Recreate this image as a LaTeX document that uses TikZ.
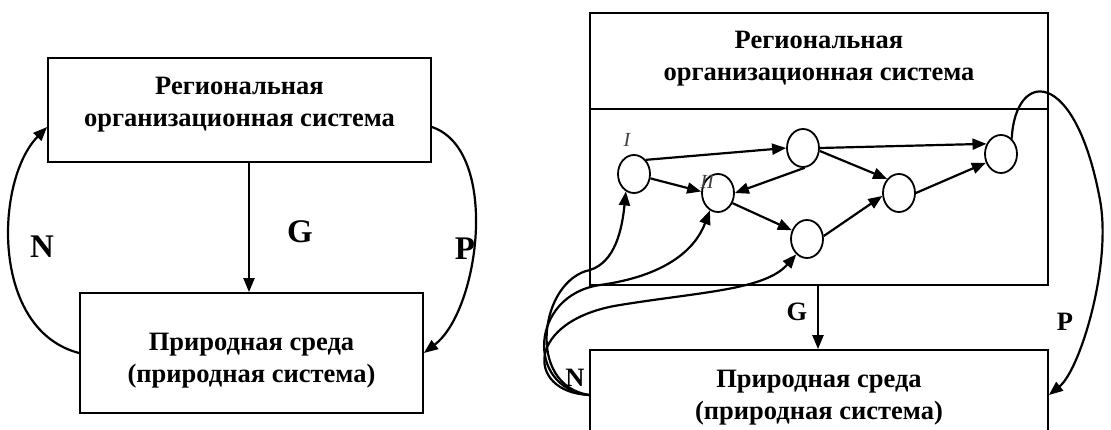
\documentclass[tikz,border=0pt]{standalone}
\usepackage{fontspec}
\setmainfont{Liberation Serif}
\usetikzlibrary{arrows.meta,shapes.geometric}
\tikzset{
  sysbox/.style={draw,line width=1.8pt,align=center,font=\bfseries\fontsize{26.5}{32}\selectfont},
  vertex/.style={draw,ellipse,line width=1.8pt,minimum width=32pt,minimum height=38pt,inner sep=0pt},
  link/.style={line width=2.2pt,-{Triangle[length=14pt,width=11pt]}},
  flowlabel/.style={font=\bfseries\fontsize{26.5}{32}\selectfont},
  biglabel/.style={font=\bfseries\fontsize{33}{36}\selectfont},
  vlabel/.style={font=\itshape\fontsize{20}{24}\selectfont,text=black!75}
}
\begin{document}
\begin{tikzpicture}[x=1pt,y=-1pt]
\useasboundingbox (0,0) rectangle (1111,430);
\clip (0,0) rectangle (1111,430);
% left scheme
\node[sysbox,minimum width=383pt,minimum height=104pt,text height=50pt,text depth=16pt] (org1) at (239.5,110) {Региональная\\организационная система};
\node[sysbox,minimum width=343pt,minimum height=120pt,text height=62pt,text depth=4pt] (env1) at (251.5,353) {Природная среда\\(природная система)};
\coordinate (g1) at (249,0);
\draw[link] (org1.south -| g1) -- (env1.north -| g1);
\draw[link] (env1.west) .. controls (-10,330) and (-5,180) .. ([yshift=-17pt]org1.west);
\draw[link] ([yshift=-17pt]org1.east) .. controls (500,150) and (480,310) .. (env1.east);
\node[biglabel] (lg1) at (300,232) {G};
\node[biglabel] (ln1) at (42,247) {N};
\node[biglabel] (lp1) at (465,249) {P};
% right scheme
\node[draw,line width=1.8pt,minimum width=458pt,minimum height=272pt] (org2) at (819,149) {};
\coordinate (div) at (0,109);
\draw[line width=1.8pt] (org2.west |- div) -- (org2.east |- div);
\node[align=center,font=\bfseries\fontsize{26.5}{32}\selectfont] (title2) at (819,59) {Региональная\\организационная система};
\node[sysbox,minimum width=458pt,minimum height=90pt,text height=54pt,text depth=6pt] (env2) at (819,395) {Природная среда\\(природная система)};
% graph of the system
\node[vertex] (v1) at (634,174) {};
\node[vertex] (v2) at (718,193) {};
\node[vertex] (v3) at (803,148) {};
\node[vertex] (v4) at (807,239) {};
\node[vertex] (v5) at (899,193) {};
\node[vertex] (v6) at (1001,154) {};
\node[vlabel] (lI) at (627,140) {I};
\node[vlabel] (lII) at (707,182) {II};
\draw[link] (v1.50) -- (v3.west);
\draw[link] (v1.-15) -- (v2.175);
\draw[link] (v3.-85) -- (v2.east);
\draw[link] (v3.-10) -- (v5.130);
\draw[link] (v3.east) -- (v6.145);
\draw[link] (v2.-35) -- (v4.150);
\draw[link] (v4.10) -- (v5.190);
\draw[link] (v5.east) -- (v6.210);
% links to the environment
\coordinate (g2) at (818,0);
\draw[link] (org2.south -| g2) -- (env2.north -| g2);
\draw[link] (v6.55) .. controls (1015,70) and (1075,65) .. (1100,200) .. controls (1112,265) and (1080,370) .. (env2.east);
\draw[link] (env2.west) .. controls (525,385) and (540,280) .. (590,270) .. controls (615,262) and (622,230) .. (v1.245);
\draw[link] (env2.west) .. controls (525,388) and (530,295) .. (600,285) .. controls (665,276) and (695,250) .. (v2.245);
\draw[link] (env2.west) .. controls (525,392) and (525,320) .. (620,305) .. controls (700,292) and (765,290) .. (v4.235);
\node[flowlabel] (lg2) at (797,312) {G};
\node[flowlabel] (ln2) at (575,378) {N};
\node[flowlabel] (lp2) at (1065,322) {P};
\end{tikzpicture}
\end{document}
